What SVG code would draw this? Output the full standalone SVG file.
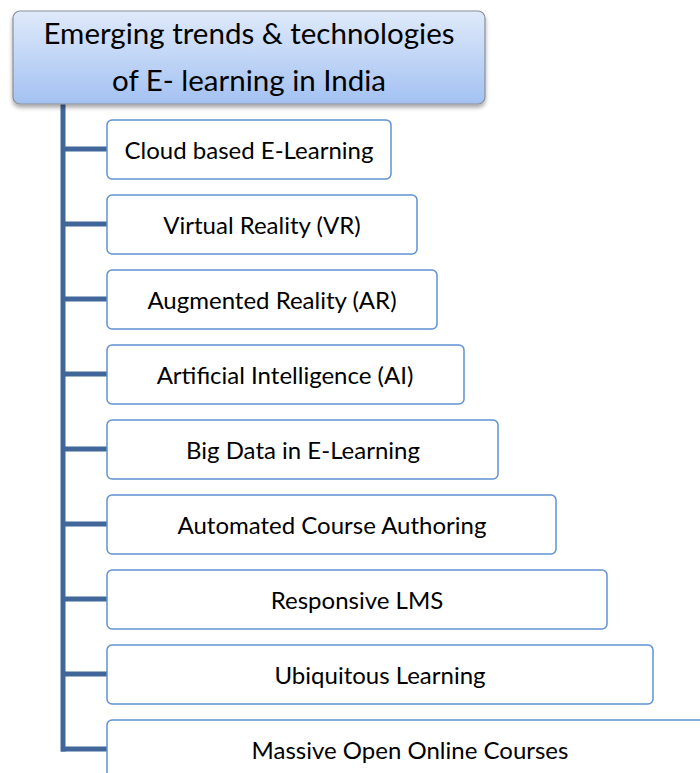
<svg xmlns="http://www.w3.org/2000/svg" width="700" height="773" viewBox="0 0 700 773">
<defs>
<linearGradient id="g" x1="0" y1="0" x2="0" y2="1">
<stop offset="0" stop-color="#dfeafa"/>
<stop offset="1" stop-color="#a3c1f2"/>
</linearGradient>
<filter id="sh" x="-5%" y="-10%" width="110%" height="130%">
<feDropShadow dx="0" dy="3" stdDeviation="2" flood-color="#000" flood-opacity="0.35"/>
</filter>
</defs>
<style>
.box{fill:#fff;stroke:#5f92d4;stroke-width:1.5}
.t{font-family:Lato,"Liberation Sans",sans-serif;font-size:24px;fill:#000;text-anchor:middle;dominant-baseline:central}
.h{font-family:Lato,"Liberation Sans",sans-serif;font-size:29.5px;fill:#000;text-anchor:middle}
.c{stroke:#41679a;stroke-width:5;fill:none}
</style>
<g id="connectors">
<line class="c" x1="63" y1="104" x2="63" y2="751.5"/>
<line class="c" x1="61" y1="149" x2="108" y2="149"/>
<line class="c" x1="61" y1="224" x2="108" y2="224"/>
<line class="c" x1="61" y1="299" x2="108" y2="299"/>
<line class="c" x1="61" y1="374" x2="108" y2="374"/>
<line class="c" x1="61" y1="449" x2="108" y2="449"/>
<line class="c" x1="61" y1="524" x2="108" y2="524"/>
<line class="c" x1="61" y1="599" x2="108" y2="599"/>
<line class="c" x1="61" y1="674" x2="108" y2="674"/>
<line class="c" x1="61" y1="749" x2="108" y2="749"/>
</g>
<g id="root">
<rect x="13" y="11" width="472" height="93" rx="7" fill="url(#g)" stroke="#8a8f98" stroke-width="1.2" filter="url(#sh)"/>
<text class="h" x="249" y="44">Emerging trends &amp; technologies</text>
<text class="h" x="249" y="91">of E- learning in India</text>
</g>
<g id="n1"><rect class="box" x="107" y="120" width="284" height="59" rx="5"/><text class="t" x="249" y="149">Cloud based E-Learning</text></g>
<g id="n2"><rect class="box" x="107" y="195" width="310" height="59" rx="5"/><text class="t" x="262" y="224">Virtual Reality (VR)</text></g>
<g id="n3"><rect class="box" x="107" y="270" width="330" height="59" rx="5"/><text class="t" x="272" y="299">Augmented Reality (AR)</text></g>
<g id="n4"><rect class="box" x="107" y="345" width="357" height="59" rx="5"/><text class="t" x="285" y="374">Artificial Intelligence (AI)</text></g>
<g id="n5"><rect class="box" x="107" y="420" width="391" height="59" rx="5"/><text class="t" x="303" y="449">Big Data in E-Learning</text></g>
<g id="n6"><rect class="box" x="107" y="495" width="449" height="59" rx="5"/><text class="t" x="332" y="524">Automated Course Authoring</text></g>
<g id="n7"><rect class="box" x="107" y="570" width="500" height="59" rx="5"/><text class="t" x="357" y="599">Responsive LMS</text></g>
<g id="n8"><rect class="box" x="107" y="645" width="546" height="59" rx="5"/><text class="t" x="380" y="674">Ubiquitous Learning</text></g>
<g id="n9"><rect class="box" x="107" y="720" width="606" height="70" rx="5"/><text class="t" x="410" y="749">Massive Open Online Courses</text></g>
</svg>
